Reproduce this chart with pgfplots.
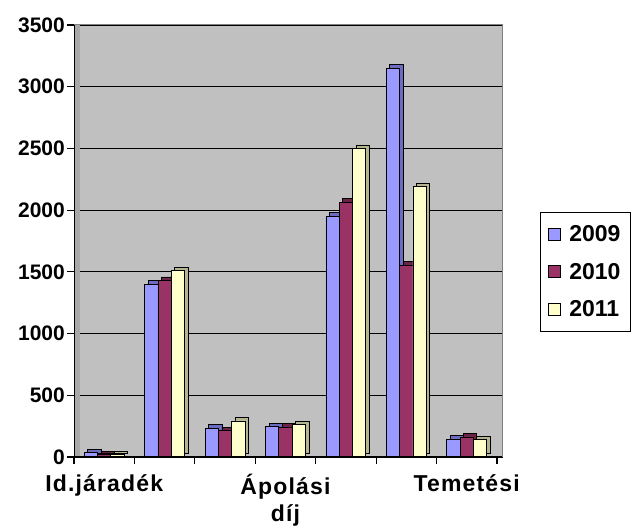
\documentclass[border=0pt]{standalone}
\usepackage{fontspec}
\setmainfont{Liberation Sans}
\newfontfamily\xlab[LetterSpace=5]{Liberation Sans}
\usepackage{pgfplots}
\pgfplotsset{compat=1.18}
\definecolor{wall}{HTML}{C0C0C0}
\definecolor{wallside}{HTML}{A8A8A8}
\definecolor{b9}{HTML}{9999FF}
\definecolor{b9d}{HTML}{6B6BC0}
\definecolor{r10}{HTML}{993366}
\definecolor{r10d}{HTML}{6A2346}
\definecolor{y11}{HTML}{FFFFCC}
\definecolor{y11d}{HTML}{B5B590}
\begin{document}
\begin{tikzpicture}
\begin{axis}[
  at={(74pt,72pt)}, anchor=south west,
  scale only axis, width=429pt, height=432pt,
  xmin=0, xmax=7.1, ymin=0, ymax=3500,
  ybar, bar width=13.3pt,
  axis background/.style={fill=wall},
  axis line style={draw=none},
  xtick={0,1,...,7}, xticklabels={},
  extra x ticks={0.5,3.5,6.5},
  extra x tick labels={Id.járadék,{Ápolási\\díj},Temetési},
  extra x tick style={major tick length=0pt, grid=none,
     xticklabel style={font=\xlab\fontsize{23}{27}\selectfont\bfseries, align=center, inner sep=2pt, yshift=-15pt}},
  ytick={0,500,...,3500},
  ymajorgrids, major grid style={black, line width=1.1pt},
  tick align=outside, major tick length=7pt,
  tick style={black, line width=1.1pt},
  xtick pos=lower, ytick pos=left,
  yticklabel style={font=\fontsize{21}{25}\selectfont\bfseries, inner sep=2pt},
  /pgf/number format/assume math mode=true,
  /pgf/number format/set thousands separator={},
  legend style={at={(1.0862,0.567)}, anchor=north west, draw=black, line width=1pt,
     fill=white, font=\fontsize{23}{26}\selectfont\bfseries, row sep=16pt,
     inner xsep=8pt, inner ysep=11pt, legend cell align=left},
  legend image code/.code={\draw[#1,draw=black,line width=0.8pt] (0pt,-6pt) rectangle (12pt,6pt);},
]
\fill[wallside] (axis cs:0,0) rectangle ([xshift=6pt]axis cs:0,3500);
\draw[gray, line width=1pt] (axis cs:0,3500) -- (axis cs:7.1,3500) -- (axis cs:7.1,0);
\addplot[forget plot, fill=b9d, draw=black, line width=0.8pt, bar shift=-13.3pt, transform canvas={shift={(3.5pt,3.5pt)}}]
  coordinates {(0.5,35) (1.5,1400) (2.5,232) (3.5,245) (4.5,1950) (5.5,3150) (6.5,146)};
\addplot[fill=b9, draw=black, line width=0.8pt, bar shift=-13.3pt]
  coordinates {(0.5,35) (1.5,1400) (2.5,232) (3.5,245) (4.5,1950) (5.5,3150) (6.5,146)};
\addplot[forget plot, fill=r10d, draw=black, line width=0.8pt, bar shift=0pt, transform canvas={shift={(3.5pt,3.5pt)}}]
  coordinates {(0.5,20) (1.5,1430) (2.5,212) (3.5,240) (4.5,2065) (5.5,1555) (6.5,162)};
\addplot[fill=r10, draw=black, line width=0.8pt, bar shift=0pt]
  coordinates {(0.5,20) (1.5,1430) (2.5,212) (3.5,240) (4.5,2065) (5.5,1555) (6.5,162)};
\addplot[forget plot, fill=y11d, draw=black, line width=0.8pt, bar shift=13.3pt, transform canvas={shift={(3.5pt,3.5pt)}}]
  coordinates {(0.5,18) (1.5,1510) (2.5,292) (3.5,262) (4.5,2500) (5.5,2190) (6.5,140)};
\addplot[fill=y11, draw=black, line width=0.8pt, bar shift=13.3pt]
  coordinates {(0.5,18) (1.5,1510) (2.5,292) (3.5,262) (4.5,2500) (5.5,2190) (6.5,140)};
\draw[black, line width=1.2pt] (axis cs:0,3500) -- (axis cs:0,0) -- (axis cs:7,0);
\legend{\hspace{6pt}2009,\hspace{6pt}2010,\hspace{6pt}2011}
\end{axis}
\pgfresetboundingbox
\useasboundingbox (0,0) rectangle (632pt,529pt);
\end{tikzpicture}
\end{document}
